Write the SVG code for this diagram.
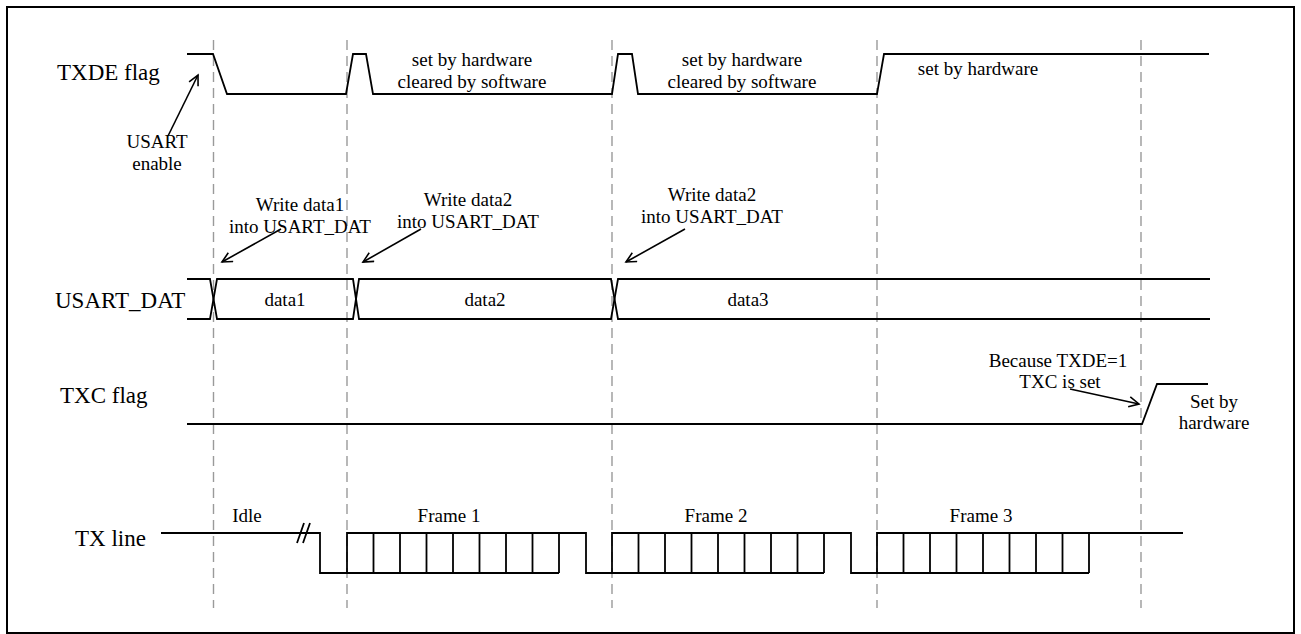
<svg xmlns="http://www.w3.org/2000/svg" width="1301" height="634" viewBox="0 0 1301 634">
<defs>
<marker id="arr" markerUnits="userSpaceOnUse" markerWidth="14" markerHeight="14" refX="11" refY="6" orient="auto">
<path d="M1,1 L11,6 L1,11" fill="none" stroke="#000" stroke-width="1.6"/>
</marker>
<style>
.sig{fill:none;stroke:#000;stroke-width:1.8;stroke-linejoin:miter}
.dash{fill:none;stroke:#9a9a9a;stroke-width:1.4;stroke-dasharray:10 6}
.ann{fill:none;stroke:#000;stroke-width:1.6}
.lbl{font-family:"Liberation Serif","Times New Roman",serif;font-size:23px;fill:#000}
.t{font-family:"Liberation Serif","Times New Roman",serif;font-size:19px;fill:#000;text-anchor:middle}
</style>
</defs>
<rect x="0" y="0" width="1301" height="634" fill="#fff"/>
<rect x="7" y="7" width="1287" height="626" fill="none" stroke="#000" stroke-width="2"/>

<g id="guides">
<line class="dash" x1="213.5" y1="40" x2="213.5" y2="608"/>
<line class="dash" x1="347" y1="40" x2="347" y2="608"/>
<line class="dash" x1="612" y1="40" x2="612" y2="608"/>
<line class="dash" x1="877" y1="40" x2="877" y2="608"/>
<line class="dash" x1="1141" y1="40" x2="1141" y2="608"/>
</g>

<g id="txde">
<text class="lbl" x="57" y="80">TXDE flag</text>
<path class="sig" d="M187,54 H213 L227,94 H346 L353,54 H366 L373,94 H612 L618,54 H632 L638,94 H877 L884,54 H1209"/>
<text class="t" x="472" y="66">set by hardware</text>
<text class="t" x="472" y="88">cleared by software</text>
<text class="t" x="742" y="66">set by hardware</text>
<text class="t" x="742" y="88">cleared by software</text>
<text class="t" x="978" y="75">set by hardware</text>
<text class="t" x="157" y="148">USART</text>
<text class="t" x="157" y="170">enable</text>
</g>

<g id="usart_dat">
<text class="lbl" x="55" y="308">USART_DAT</text>
<path class="sig" d="M187,279 H210 L217,319 H353 L359,279 H611 L618,319 H1210"/>
<path class="sig" d="M187,319 H210 L217,279 H353 L359,319 H611 L618,279 H1210"/>
<text class="t" x="285" y="306">data1</text>
<text class="t" x="485" y="306">data2</text>
<text class="t" x="748" y="306">data3</text>
<text class="t" x="300" y="211">Write data1</text>
<text class="t" x="300" y="233">into USART_DAT</text>
<text class="t" x="468" y="206">Write data2</text>
<text class="t" x="468" y="228">into USART_DAT</text>
<text class="t" x="712" y="201">Write data2</text>
<text class="t" x="712" y="223">into USART_DAT</text>
</g>

<g id="txc">
<text class="lbl" x="60" y="403">TXC flag</text>
<path class="sig" d="M187,424 H1142 L1157,384 H1208"/>
<text class="t" x="1058" y="367">Because TXDE=1</text>
<text class="t" x="1060" y="388">TXC is set</text>
<text class="t" x="1214" y="408">Set by</text>
<text class="t" x="1214" y="429">hardware</text>
</g>

<g id="txline">
<text class="lbl" x="75" y="546">TX line</text>
<path class="sig" d="M161,533 H320 V573 H347 V533 H586 V573 H612 V533 H851 V573 H877 V533 H1183"/>
<path class="sig" d="M347,573 H559 M612,573 H824 M877,573 H1089"/>
<path class="sig" d="M373.5,533 V573 M400,533 V573 M426.5,533 V573 M453,533 V573 M479.5,533 V573 M506,533 V573 M532.5,533 V573 M559,533 V573"/>
<path class="sig" d="M638.5,533 V573 M665,533 V573 M691.5,533 V573 M718,533 V573 M744.5,533 V573 M771,533 V573 M797.5,533 V573 M824,533 V573"/>
<path class="sig" d="M903.5,533 V573 M930,533 V573 M956.5,533 V573 M983,533 V573 M1009.5,533 V573 M1036,533 V573 M1062.5,533 V573 M1089,533 V573"/>
<path class="sig" d="M297,543 L304,523 M303,543 L310,523"/>
<text class="t" x="247" y="522">Idle</text>
<text class="t" x="449" y="522">Frame 1</text>
<text class="t" x="716" y="522">Frame 2</text>
<text class="t" x="981" y="522">Frame 3</text>
</g>

<g id="connectors">
<line class="ann" x1="168" y1="136" x2="198" y2="75" marker-end="url(#arr)"/>
<line class="ann" x1="281" y1="229" x2="222" y2="262" marker-end="url(#arr)"/>
<line class="ann" x1="421" y1="229" x2="363" y2="262" marker-end="url(#arr)"/>
<line class="ann" x1="685" y1="229" x2="626" y2="262" marker-end="url(#arr)"/>
<line class="ann" x1="1070" y1="389" x2="1139" y2="404" marker-end="url(#arr)"/>
</g>
</svg>
